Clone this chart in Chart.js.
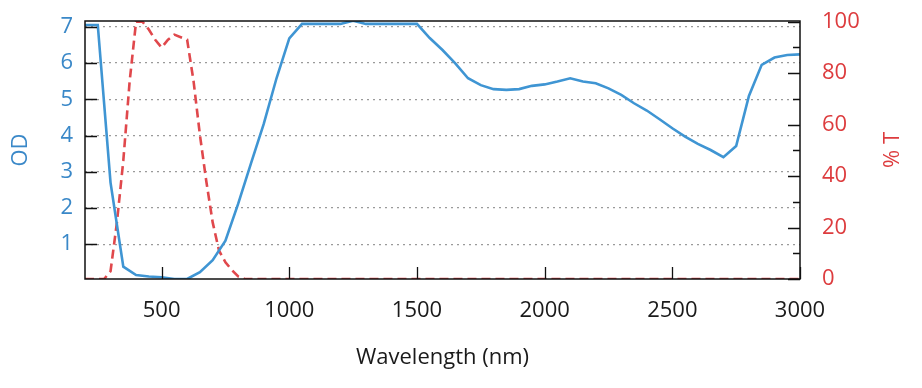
<!DOCTYPE html>
<html>
<head>
<meta charset="utf-8">
<script src="https://cdn.jsdelivr.net/npm/chart.js@4.4.1/dist/chart.umd.min.js"></script>
<style>
  html, body { margin: 0; padding: 0; background: #ffffff; }
  #wrap { width: 922px; height: 388px; position: relative; }
</style>
</head>
<body>
<div id="wrap"><canvas id="c" width="922" height="388"></canvas></div>
<script>
// ---- data ----
const odWavelengths = [200,250,300,350,400,450,500,550,600,650,700,750,800,850,900,950,1000,1050,1100,1150,1200,1250,1300,1350,1400,1450,1500,1550,1600,1650,1700,1750,1800,1850,1900,1950,2000,2050,2100,2150,2200,2250,2300,2350,2400,2450,2500,2550,2600,2650,2700,2750,2800,2850,2900,2950,3000];
const odValues = [7.05,7.05,2.70,0.38,0.15,0.11,0.09,0.04,0.04,0.23,0.56,1.10,2.12,3.23,4.32,5.58,6.68,7.08,7.08,7.08,7.08,7.17,7.08,7.08,7.08,7.08,7.08,6.69,6.36,5.99,5.58,5.39,5.28,5.26,5.28,5.37,5.41,5.49,5.58,5.49,5.44,5.30,5.12,4.89,4.69,4.45,4.20,3.97,3.77,3.60,3.40,3.71,5.09,5.95,6.15,6.22,6.24];

const tWavelengths = [200,250,275,300,325,350,375,400,425,450,475,500,525,550,575,600,625,650,675,700,725,750,775,800,825,850,900,1000,1500,2000,2500,3000];
const tValues = [0,0,0,3,22,46,77,100,100,97,93,90,93,95,94,93,77,56,38,22,11,6.5,3.5,1,0,0,0,0,0,0,0,0];

const xTicks = [500,1000,1500,2000,2500,3000];
const odTicks = [1,2,3,4,5,6,7];
const tTicks = [0,20,40,60,80,100];
const tMinorTicks = [10,30,50,70,90];

const xTitle = 'Wavelength (nm)';
const odTitle = 'OD';
const tTitle = '% T';

// ---- styles ----
const BLUE_LINE = '#3f95d3';
const BLUE_TEXT = '#3a88c8';
const RED_LINE = '#e0484c';
const RED_TEXT = '#dd3c3e';
const FONT = "'Open Sans', 'DejaVu Sans', sans-serif";

const odData = odWavelengths.map((x, i) => ({x, y: odValues[i]}));
const tData = tWavelengths.map((x, i) => ({x, y: tValues[i]}));

const frame = {
  id: 'frame',
  afterDatasetsDraw(chart) {
    const {ctx, chartArea: a, scales} = chart;
    ctx.save();
    ctx.strokeStyle = '#111';
    ctx.lineWidth = 1.3;
    ctx.beginPath();
    xTicks.forEach(v => {
      const px = Math.round(scales.x.getPixelForValue(v)) + 0.5;
      ctx.moveTo(px, a.bottom); ctx.lineTo(px, a.bottom - 12);
    });
    odTicks.forEach(v => {
      const py = Math.round(scales.y.getPixelForValue(v)) + 0.5;
      ctx.moveTo(a.left, py); ctx.lineTo(a.left + 12, py);
    });
    tTicks.forEach(v => {
      const py = Math.round(scales.y2.getPixelForValue(v)) + 0.5;
      ctx.moveTo(a.right, py); ctx.lineTo(a.right - 12, py);
    });
    tMinorTicks.forEach(v => {
      const py = Math.round(scales.y2.getPixelForValue(v)) + 0.5;
      ctx.moveTo(a.right, py); ctx.lineTo(a.right - 7, py);
    });
    ctx.stroke();
    ctx.lineWidth = 1.5;
    ctx.strokeRect(a.left, a.top, a.right - a.left, a.bottom - a.top);
    // right axis title, reading bottom-to-top
    ctx.translate(893, (a.top + a.bottom) / 2);
    ctx.rotate(-Math.PI / 2);
    ctx.fillStyle = RED_TEXT;
    ctx.font = "22px " + FONT;
    ctx.textAlign = 'center';
    ctx.textBaseline = 'middle';
    ctx.fillText(tTitle, 0, 0);
    ctx.restore();
  }
};

const plain = v => String(v);
const noPad = s => { s.paddingTop = 0; s.paddingBottom = 0; s.paddingLeft = 0; s.paddingRight = 0; };

new Chart(document.getElementById('c'), {
  type: 'line',
  data: {
    datasets: [
      {
        label: 'OD', data: odData, yAxisID: 'y',
        borderColor: BLUE_LINE, borderWidth: 2.6, pointRadius: 0, tension: 0, fill: false
      },
      {
        label: '% T', data: tData, yAxisID: 'y2',
        borderColor: RED_LINE, borderWidth: 2.6, borderDash: [9, 5], pointRadius: 0, tension: 0, fill: false
      }
    ]
  },
  options: {
    responsive: false,
    animation: false,
    events: [],
    layout: { padding: { top: 21, left: 0, right: 0, bottom: 0 } },
    plugins: { legend: { display: false }, tooltip: { enabled: false } },
    scales: {
      x: {
        type: 'linear', position: 'bottom', min: 200, max: 3000,
        afterBuildTicks: s => { s.ticks = xTicks.map(v => ({value: v})); },
        afterFit: s => { s.height = 109; noPad(s); },
        grid: { display: false, drawTicks: false },
        border: { display: false },
        ticks: { color: '#1a1a1a', padding: 19, font: { family: FONT, size: 22 }, maxRotation: 0, callback: plain },
        title: { display: true, text: xTitle, color: '#1a1a1a', font: { family: FONT, size: 22 }, padding: { top: 0, bottom: 17 } }
      },
      y: {
        type: 'linear', position: 'left', min: 0.04, max: 7.16,
        afterBuildTicks: s => { s.ticks = odTicks.map(v => ({value: v})); },
        afterFit: s => { s.width = 85; noPad(s); },
        grid: { display: true, drawTicks: false, color: '#9a9a9a', lineWidth: 1.2 },
        border: { display: false, dash: [2, 4] },
        ticks: { color: BLUE_TEXT, padding: 12, font: { family: FONT, size: 22 }, callback: plain },
        title: { display: true, text: odTitle, color: BLUE_TEXT, font: { family: FONT, size: 22 }, padding: { top: 8, bottom: 0 } }
      },
      y2: {
        type: 'linear', position: 'right', min: 0, max: 100.3,
        afterBuildTicks: s => { s.ticks = tTicks.map(v => ({value: v})); },
        afterFit: s => { s.width = 122; noPad(s); },
        grid: { display: false, drawTicks: false },
        border: { display: false },
        ticks: { color: RED_TEXT, padding: 22, font: { family: FONT, size: 22 }, callback: plain },
        title: { display: false, text: tTitle }
      }
    }
  },
  plugins: [frame]
});
</script>
</body>
</html>
